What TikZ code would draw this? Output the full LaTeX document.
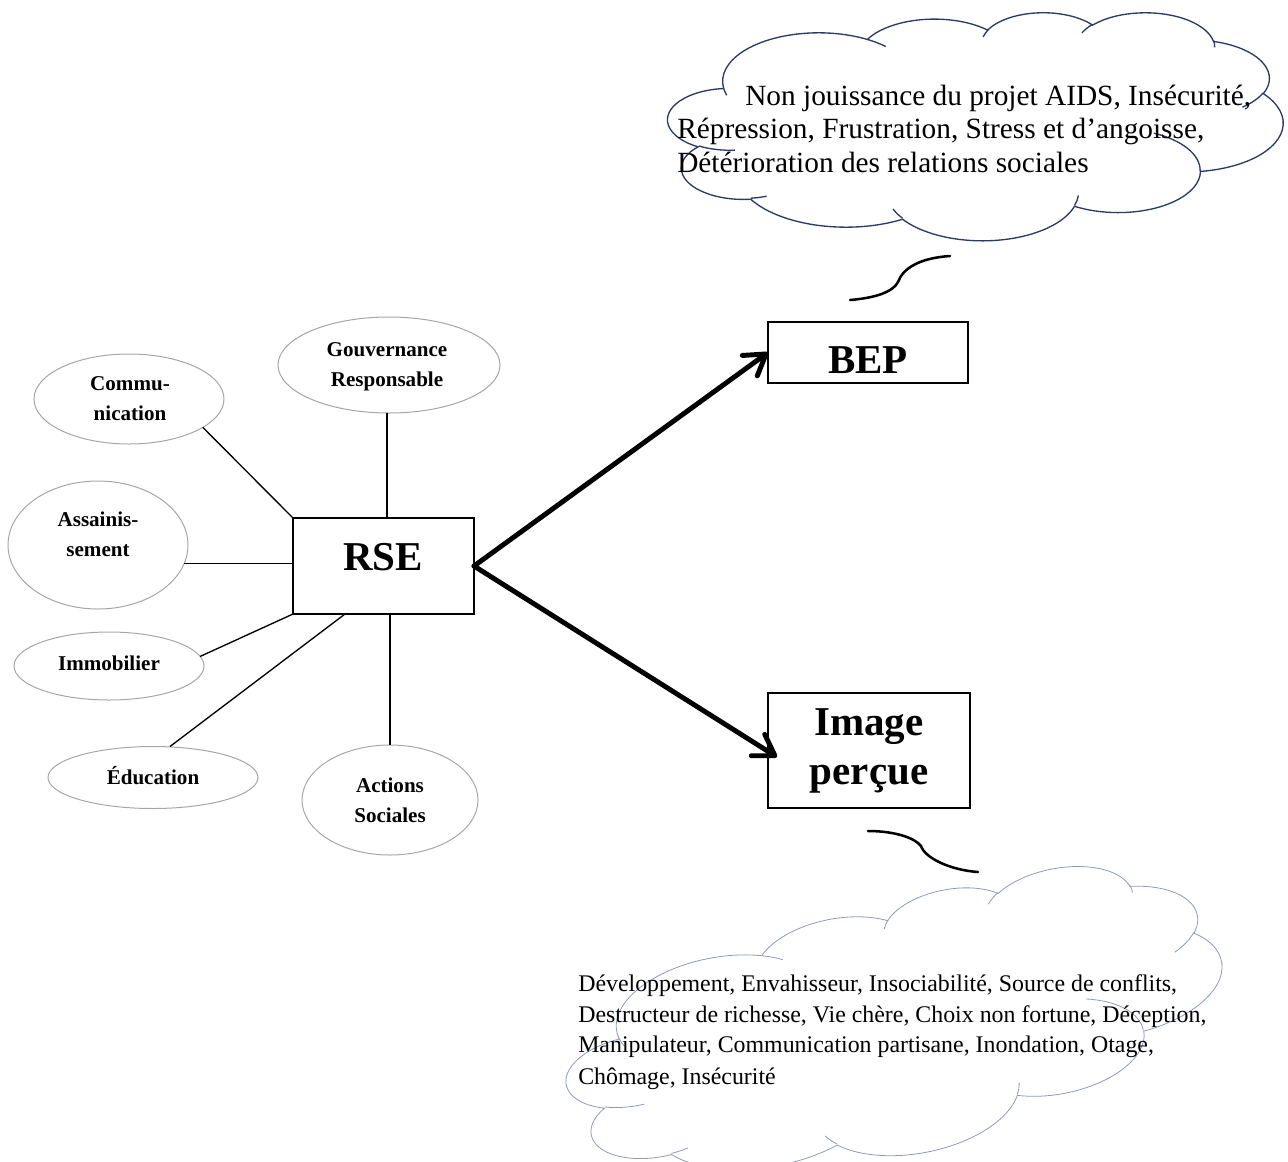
\documentclass[tikz,border=0pt]{standalone}
\usepackage{fontspec}
\setmainfont{Liberation Serif}
\usetikzlibrary{arrows.meta,shapes.geometric}
\definecolor{navyline}{HTML}{2B3A67}
\definecolor{paleline}{HTML}{8C9AB8}
\definecolor{ellgray}{HTML}{A6A6A6}

% one lobe of the Office cloud, angles given as visual angles
\newcommand\carc[4]{arc[x radius=#1, y radius=#2, start angle={vp(#3,#1,#2)}, delta angle={mod(vp(#3+#4,#1,#2)-vp(#3,#1,#2)+720,360)}]}

\newcommand\cloudpaths[1]{%
\draw[#1] (0.090278,0.332639)
 \carc{0.1563194}{0.2127315}{-190.48748}{123.78053}
 \carc{0.1234491}{0.1682176}{-144.10238}{89.94523}
 \carc{0.1010417}{0.1376157}{-145.80792}{99.72302}
 \carc{0.1124306}{0.1526620}{-130.98607}{117.24173}
 \carc{0.1234491}{0.1683565}{-78.70888}{109.02692}
 \carc{0.1568287}{0.2134259}{-46.26725}{130.26900}
 \carc{0.1339120}{0.1821065}{0.62502}{114.03333}
 \carc{0.1562963}{0.2133102}{22.45160}{115.17255}
 \carc{0.1787037}{0.2440509}{66.24263}{75.71102}
 \carc{0.1009259}{0.1369907}{-274.94208}{146.73557}
 \carc{0.1005787}{0.1376157}{-246.82850}{152.51885}
 -- cycle;
\draw[#1] (0.108634,0.605949) \carc{0.1005787}{0.1376157}{86.74200}{26.42950}
 (0.160370,0.807847) \carc{0.1009259}{0.1369907}{73.61047}{11.44747}
 (0.381435,0.904861) \carc{0.1562963}{0.2133102}{137.62415}{14.08110}
 (0.667292,0.804421) \carc{0.1562963}{0.2133102}{6.45327}{15.99835}
 (0.790023,0.531343) \carc{0.1339120}{0.1821065}{-70.29235}{70.91737}
 (0.967546,0.355417) \carc{0.1234491}{0.1683565}{30.31803}{27.75150}
 (0.887130,0.125602) \carc{0.1124306}{0.1526620}{-13.74433}{14.86598}
 (0.673102,0.091481) \carc{0.1124306}{0.1526620}{-149.18145}{18.19537}
 (0.512523,0.109259) \carc{0.1010417}{0.1376157}{-163.49427}{17.68635}
 (0.324074,0.120185) \carc{0.1563194}{0.2127315}{-66.70695}{12.31935}
 (0.095532,0.365486) \carc{0.1563194}{0.2127315}{157.65435}{11.85817};
}

\begin{document}
\begin{tikzpicture}[x=0.75pt,y=-0.75pt,
  declare function={vp(\t,\a,\b)=atan2(\a*sin(\t),\b*cos(\t));},
  ell/.style={ellipse, draw=ellgray, line width=0.75pt, inner sep=0pt, outer sep=0pt},
  etxt/.style={font=\fontsize{15.8}{22.5}\selectfont\bfseries, align=center, inner sep=0pt},
  boxnode/.style={draw, line width=1.6pt, inner sep=0pt, outer sep=0pt},
  btxt/.style={font=\fontsize{30.75}{36.5}\selectfont\bfseries, inner sep=0pt},
  conn/.style={line width=1pt},
  bigarrow/.style={line width=3.7pt, line cap=round, -{Straight Barb[length=15pt,width=19pt,round]}},
  tail/.style={line width=1.9pt, line cap=round},
  topcloud/.style={draw=navyline, line width=1pt},
  botcloud/.style={draw=paleline, line width=0.6pt},
  ttop/.style={font=\fontsize{22}{25}\selectfont, inner sep=0pt, anchor=base west},
  tbot/.style={font=\fontsize{17.9}{23}\selectfont, inner sep=0pt, anchor=base west}
]
\path[use as bounding box] (0,0) rectangle (1288,1161);

% clouds
\begin{scope}[shift={(668,12)}, xscale=615, yscale=228]
\cloudpaths{topcloud}
\end{scope}
\begin{scope}[shift={(895,1028)}, rotate=11, shift={(-333,-127)}, xscale=666, yscale=254]
\cloudpaths{botcloud}
\end{scope}

% cloud texts
\node[ttop] (t1) at (745,105) {Non jouissance du projet AIDS, Insécurité,};
\node[ttop] (t2) at (677,138) {Répression, Frustration, Stress et d’angoisse,};
\node[ttop] (t3) at (677,172) {Détérioration des relations sociales};

\node[tbot] (b1) at (578,991) {Développement, Envahisseur, Insociabilité, Source de conflits,};
\node[tbot] (b2) at (578,1022) {Destructeur de richesse, Vie chère, Choix non fortune, Déception,};
\node[tbot] (b3) at (578,1052) {Manipulateur, Communication partisane, Inondation, Otage,};
\node[tbot] (b4) at (578,1084) {Chômage, Insécurité};

% tails
\draw[tail] (850,300) .. controls (875,298) and (893,292) .. (898,282) .. controls (903,268) and (920,258) .. (950,256);
\draw[tail] (868,831) .. controls (895,831) and (915,838) .. (921,846) .. controls (925,858) and (950,870) .. (978,872);

% boxes
\node[boxnode, minimum width=135.75pt, minimum height=72pt] (rse) at (383.5,566) {};
\node[btxt, anchor=base] (rseT) at (383,570) {RSE};
\node[boxnode, minimum width=150pt, minimum height=45.75pt] (bep) at (868,352.5) {};
\node[btxt, anchor=base] (bepT) at (868,373) {BEP};
\node[boxnode, minimum width=151.5pt, minimum height=86.25pt] (img) at (869,750.5) {};
\node[btxt, align=center] (imgT) at (869,751) {Image\\perçue};

% ellipses
\node[ell, minimum width=166.5pt, minimum height=72pt] (gouv) at (389,365) {};
\node[etxt] (gouvT) at (387,367) {Gouvernance\\Responsable};
\node[ell, minimum width=142.5pt, minimum height=67.5pt] (comm) at (129,399) {};
\node[etxt] (commT) at (130,399) {Commu-\\nication};
\node[ell, minimum width=135pt, minimum height=96pt] (assain) at (98,545) {};
\node[etxt] (assainT) at (98,534) {Assainis-\\sement};
\node[ell, minimum width=142.5pt, minimum height=51pt] (immo) at (109,666) {};
\node[etxt] (immoT) at (109,663) {Immobilier};
\node[ell, minimum width=157.5pt, minimum height=46.5pt] (edu) at (153,777.5) {};
\node[etxt] (eduT) at (153,776) {Éducation};
\node[ell, minimum width=132pt, minimum height=82.5pt] (act) at (390,800) {};
\node[etxt] (actT) at (390,800) {Actions\\Sociales};

% connectors
\draw[conn] ([shift={(-2,0)}]gouv.south) -- ([shift={(-2,0)}]gouv.south |- rse.north);
\draw[conn] (comm.-21) -- (rse.north west);
\draw[conn] (assain.-12) -- (assain.-12 -| rse.west);
\draw[conn] (immo.6) -- (rse.south west);
\draw[conn] ([shift={(17,0)}]edu.north) -- ([shift={(-38.5,0)}]rse.south);
\draw[conn] (act.north) -- (act.north |- rse.south);

% arrows
\draw[bigarrow] (rse.east) -- (bep.west);
\draw[bigarrow] (rse.east) -- ([shift={(9,6.5)}]img.west);
\end{tikzpicture}
\end{document}
